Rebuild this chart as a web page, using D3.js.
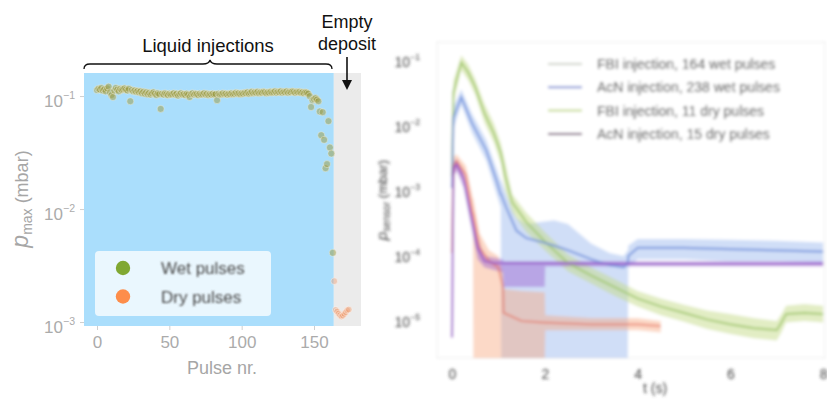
<!DOCTYPE html>
<html><head><meta charset="utf-8">
<script src="https://cdn.jsdelivr.net/npm/d3@7"></script>
<style>body{margin:0;background:#fff}svg{display:block}</style>
</head><body>
<svg id="c" width="827" height="401"></svg>
<script>
// ---------- LEFT PANEL DATA ----------
const wetPulses = [
0.113,0.116,0.114,0.118,0.112,0.115,0.110,0.117,0.121,0.108,
0.102,0.098,0.112,0.118,0.114,0.110,0.116,0.113,0.115,0.117,
0.114,0.112,0.116,0.090,0.113,0.110,0.112,0.109,0.111,0.108,
0.110,0.106,0.109,0.105,0.108,0.104,0.107,0.103,0.106,0.108,
0.105,0.102,0.106,0.104,0.077,0.105,0.103,0.106,0.104,0.102,
0.105,0.103,0.104,0.106,0.103,0.105,0.101,0.104,0.106,0.103,
0.104,0.102,0.105,0.103,0.098,0.104,0.106,0.103,0.105,0.104,
0.102,0.105,0.103,0.104,0.106,0.103,0.105,0.102,0.104,0.103,
0.105,0.103,0.104,0.092,0.105,0.103,0.104,0.106,0.104,0.105,
0.103,0.105,0.104,0.106,0.104,0.105,0.107,0.105,0.106,0.104,
0.106,0.105,0.107,0.106,0.108,0.105,0.107,0.109,0.106,0.108,
0.107,0.109,0.106,0.108,0.107,0.109,0.108,0.106,0.108,0.107,
0.109,0.107,0.108,0.110,0.107,0.109,0.108,0.110,0.107,0.109,
0.108,0.110,0.107,0.109,0.108,0.110,0.109,0.107,0.109,0.108,
0.109,0.107,0.108,0.106,0.108,0.107,
0.105,0.100,0.080,0.092,0.094,0.096,0.093,0.090,0.073,0.045,0.072,0.041,0.023,0.025,0.060,0.035,0.031,0.0041];
const dryPulses = [0.0023,0.00128,0.00124,0.00119,0.00115,0.00112,0.00114,0.00118,0.00122,0.00127,0.00129];
const liquidEnd = 163.7;
const emptyEnd = 182.5;
const xTicksLeft = [0, 50, 100, 150];
const yTicksLeft = [1e-3, 1e-2, 1e-1];
const legendLeft = ["Wet pulses", "Dry pulses"];

// ---------- RIGHT PANEL DATA ----------
const legendRight = ["FBI injection, 164 wet pulses", "AcN injection, 238 wet pulses", "FBI injection, 11 dry pulses", "AcN injection, 15 dry pulses"];
const xTicksRight = [0, 2, 4, 6, 8];
const yTicksRight = [1e-5, 1e-4, 1e-3, 1e-2, 1e-1];

const fbiWetT    = [0, 0.03, 0.2, 0.35, 0.5, 0.7, 0.9, 1.05, 1.15, 1.3, 1.6, 2.0, 2.5, 3.0, 3.5, 4.0, 4.5, 5.0, 5.5, 6.0, 6.5, 7.0, 7.1, 7.2, 7.6, 8.0];
const fbiWetMean = [1.5e-3, 3e-2, 8.5e-2, 6e-2, 3.6e-2, 1.4e-2, 7e-3, 3.5e-3, 1.5e-3, 6e-4, 3e-4, 1.5e-4, 7e-5, 4.5e-5, 3e-5, 2e-5, 1.5e-5, 1.2e-5, 9.5e-6, 8e-6, 7e-6, 6.5e-6, 8.5e-6, 1.15e-5, 1.2e-5, 1.15e-5];
const fbiWetHi   = [2e-3, 4.5e-2, 1.1e-1, 8e-2, 4.8e-2, 2e-2, 1e-2, 5e-3, 2.5e-3, 8e-4, 4.2e-4, 2.1e-4, 9.5e-5, 6e-5, 4e-5, 2.6e-5, 2e-5, 1.6e-5, 1.3e-5, 1.15e-5, 1e-5, 9e-6, 1.15e-5, 1.55e-5, 1.65e-5, 1.55e-5];
const fbiWetLo   = [1e-3, 2e-2, 6.5e-2, 4.5e-2, 2.7e-2, 1e-2, 5e-3, 2.4e-3, 9e-4, 4.2e-4, 2.1e-4, 1.1e-4, 5.2e-5, 3.4e-5, 2.2e-5, 1.5e-5, 1.1e-5, 8.8e-6, 6.8e-6, 5.7e-6, 4.9e-6, 4.5e-6, 6e-6, 8.5e-6, 9e-6, 8.5e-6];

const acnWetT    = [0, 0.03, 0.2, 0.43, 0.74, 0.96, 1.05, 1.06, 1.17, 1.39, 1.6, 1.9, 2.2, 2.5, 3.0, 3.4, 3.7, 3.79, 3.8, 4.0, 5.0, 6.0, 7.0, 8.0];
const acnWetMean = [1e-3, 1.2e-2, 2.5e-2, 1e-2, 3.8e-3, 1.3e-3, 8e-4, 8e-4, 5e-4, 2.2e-4, 1.7e-4, 1.5e-4, 1.3e-4, 1.1e-4, 8e-5, 6.5e-5, 6e-5, 7e-5, 9e-5, 1.2e-4, 1.2e-4, 1.15e-4, 1.1e-4, 1.05e-4];
const acnWetHi   = [1.5e-3, 1.8e-2, 3.3e-2, 1.4e-2, 5.5e-3, 2e-3, 1.3e-3, 1.3e-3, 8e-4, 3.5e-4, 2.8e-4, 3e-4, 3.2e-4, 2.8e-4, 1.4e-4, 1e-4, 9e-5, 1.1e-4, 1.3e-4, 1.65e-4, 1.65e-4, 1.6e-4, 1.55e-4, 1.45e-4];
const acnWetLo   = [7e-4, 8e-3, 1.9e-2, 7e-3, 2.6e-3, 8e-4, 5e-4, 1e-7, 1e-7, 1e-7, 1e-7, 1e-7, 1e-7, 1e-7, 1e-7, 1e-7, 1e-7, 1e-7, 6e-5, 8e-5, 8e-5, 7.5e-5, 7.5e-5, 7e-5];

const fbiDryT    = [0, 0.03, 0.1, 0.3, 0.45, 0.46, 0.6, 0.8, 1.0, 1.1, 1.11, 1.5, 2.0, 2.01, 3.0, 4.0, 4.5];
const fbiDryMean = [1e-4, 2.2e-3, 2.6e-3, 1.6e-3, 4e-4, 4e-4, 1.2e-4, 7.5e-5, 6e-5, 3e-5, 1.2e-5, 9e-6, 8.5e-6, 8.5e-6, 8e-6, 8e-6, 7.5e-6];
const fbiDryHi   = [2e-4, 3e-3, 3.3e-3, 2.2e-3, 7e-4, 7e-4, 2e-4, 1.1e-4, 9e-5, 5e-5, 2.8e-5, 2.6e-5, 2.5e-5, 1.1e-5, 1e-5, 1e-5, 9e-6];
const fbiDryLo   = [5e-5, 1.5e-3, 2e-3, 1.1e-3, 2.5e-4, 1e-7, 1e-7, 1e-7, 1e-7, 1e-7, 1e-7, 1e-7, 1e-7, 6.5e-6, 6.5e-6, 6.5e-6, 6e-6];

const acnDryT    = [0, 0.03, 0.1, 0.25, 0.4, 0.55, 0.7, 0.9, 1.1, 1.11, 2.0, 2.01, 4.0, 6.0, 8.0];
const acnDryMean = [5e-6, 2e-3, 2.3e-3, 1.4e-3, 4e-4, 1.2e-4, 7.5e-5, 7e-5, 7e-5, 7e-5, 7e-5, 7e-5, 6.8e-5, 6.8e-5, 6.8e-5];
const acnDryHi   = [6e-6, 2.5e-3, 2.8e-3, 1.8e-3, 5.5e-4, 1.7e-4, 9e-5, 8.5e-5, 8e-5, 7.5e-5, 7.5e-5, 7.5e-5, 7.5e-5, 7.5e-5, 7.5e-5];
const acnDryLo   = [4e-6, 1.5e-3, 1.8e-3, 1e-3, 2.8e-4, 8e-5, 6e-5, 5.5e-5, 5e-5, 3e-5, 3e-5, 6.2e-5, 6.2e-5, 6.2e-5, 6.2e-5];

// ---------- DRAW ----------
const svg = d3.select('#c');
const font = "'Liberation Sans', Arial, Helvetica, sans-serif";
const defs = svg.append('defs');
defs.append('filter').attr('id','blurR').attr('x','-5%').attr('y','-5%').attr('width','110%').attr('height','110%')
  .append('feGaussianBlur').attr('stdDeviation',1.7);
defs.append('filter').attr('id','blurT').attr('x','-5%').attr('y','-20%').attr('width','110%').attr('height','140%')
  .append('feGaussianBlur').attr('stdDeviation',1.0);

function supLabels(g){
  g.selectAll('.tick text').each(function(d){
    const e = Math.round(Math.log10(d));
    const t = d3.select(this); t.text('');
    t.append('tspan').text('10');
    t.append('tspan').attr('dy','-0.75em').attr('font-size','0.62em').text('\u2212' + Math.abs(e));
  });
}

// LEFT
const xL = d3.scaleLinear().domain([-9, emptyEnd]).range([84, 361]);
const yL = d3.scaleLog().domain([Math.pow(10,-3.035), Math.pow(10,-0.796)]).range([326, 73]);
const gL = svg.append('g');
gL.append('rect').attr('x', xL(-9)).attr('y', 73).attr('width', xL(liquidEnd)-xL(-9)).attr('height', 253).attr('fill','#aadefc');
gL.append('rect').attr('x', xL(liquidEnd)).attr('y', 73).attr('width', xL(emptyEnd)-xL(liquidEnd)).attr('height', 253).attr('fill','#ebebeb');

const axL = gL.append('g').attr('transform','translate(0,326)')
  .call(d3.axisBottom(xL).tickValues(xTicksLeft).tickSize(4).tickPadding(6));
axL.select('.domain').remove();
axL.selectAll('line').attr('stroke','#cfcfcf');
axL.selectAll('text').attr('fill','#ababab').attr('font-size',17).attr('font-family',font);

const ayL = gL.append('g').attr('transform','translate(84,0)')
  .call(d3.axisLeft(yL).tickValues(yTicksLeft).tickSize(4).tickPadding(5));
ayL.select('.domain').remove();
ayL.selectAll('line').attr('stroke','#cfcfcf');
ayL.selectAll('text').attr('fill','#ababab').attr('font-size',17).attr('font-family',font).attr('dy','0.62em');
supLabels(ayL);

gL.append('g').selectAll('circle').data(wetPulses).join('circle')
  .attr('cx',(d,i)=>xL(i)).attr('cy',d=>yL(d)).attr('r',3.5)
  .attr('fill','#9a9a40').attr('fill-opacity',0.5).attr('stroke','#f4f4e8').attr('stroke-opacity',0.55).attr('stroke-width',0.8);
gL.append('g').selectAll('circle').data(dryPulses).join('circle')
  .attr('cx',(d,i)=>xL(wetPulses.length + i)).attr('cy',d=>yL(d)).attr('r',3.3)
  .attr('fill','#ee9462').attr('fill-opacity',0.38).attr('stroke','#fff').attr('stroke-opacity',0.5).attr('stroke-width',0.8);

// legend left
gL.append('rect').attr('x',95).attr('y',251).attr('width',176).attr('height',65).attr('rx',4)
  .attr('fill','#fff').attr('fill-opacity',0.75);
const legColL = ['#80a832','#fd8d4a'];
legendLeft.forEach((s,i)=>{
  gL.append('circle').attr('cx',123).attr('cy',268+i*28.5).attr('r',7.2).attr('fill',legColL[i]);
  gL.append('text').attr('x',161).attr('y',274+i*28.5).attr('font-size',17).attr('font-family',font)
    .attr('fill','#4a4a4a').attr('filter','url(#blurT)').text(s);
});

// axis labels left
gL.append('text').attr('x',222).attr('y',374).attr('text-anchor','middle').attr('font-size',18)
  .attr('font-family',font).attr('fill','#a6a6a6').text('Pulse nr.');
const yl = gL.append('text').attr('transform','translate(28,199) rotate(-90)').attr('text-anchor','middle')
  .attr('font-size',18).attr('font-family',font).attr('fill','#a6a6a6');
yl.append('tspan').attr('font-style','italic').attr('font-size',23).text('p');
yl.append('tspan').attr('font-size',14).attr('dy',4).text('max');
yl.append('tspan').attr('dy',-4).text(' (mbar)');

// annotations
svg.append('text').attr('x',208).attr('y',52).attr('text-anchor','middle').attr('font-size',18.5)
  .attr('font-family',font).attr('fill','#111').text('Liquid injections');
svg.append('path').attr('d','M84,69 Q84,64 90,64 L203,64 Q209,64 210,60 Q211,64 217,64 L326,64 Q332,64 332,69')
  .attr('fill','none').attr('stroke','#111').attr('stroke-width',1.3);
svg.append('text').attr('x',347).attr('y',28).attr('text-anchor','middle').attr('font-size',18)
  .attr('font-family',font).attr('fill','#111').text('Empty');
svg.append('text').attr('x',347).attr('y',50).attr('text-anchor','middle').attr('font-size',18)
  .attr('font-family',font).attr('fill','#111').text('deposit');
svg.append('line').attr('x1',347).attr('x2',347).attr('y1',57).attr('y2',82).attr('stroke','#111').attr('stroke-width',1.6);
svg.append('path').attr('d','M342,80 L352,80 L347,90 Z').attr('fill','#111');

// RIGHT
const xR = d3.scaleLinear().domain([-0.28, 8.05]).range([439, 825.5]);
const yR = d3.scaleLog().domain([Math.pow(10,-5.615), Math.pow(10,-0.754)]).range([358, 42]).clamp(true);
const gR = svg.append('g').attr('filter','url(#blurR)');
gR.append('rect').attr('x',437).attr('y',42).attr('width',388).attr('height',316).attr('fill','#fff')
  .attr('stroke','#f2f2f2').attr('stroke-width',1.5);

const series = [
  {t:acnWetT, m:acnWetMean, lo:acnWetLo, hi:acnWetHi, band:'#8fb0ec', bo:0.42, line:'#7393dc', lo2:0.85},
  {t:fbiWetT, m:fbiWetMean, lo:fbiWetLo, hi:fbiWetHi, band:'#c5dc8a', bo:0.5, line:'#a2c870', lo2:0.85},
  {t:fbiDryT, m:fbiDryMean, lo:fbiDryLo, hi:fbiDryHi, band:'#f8a47a', bo:0.42, line:'#e46e5c', lo2:0.6},
  {t:acnDryT, m:acnDryMean, lo:acnDryLo, hi:acnDryHi, band:'#9b5fcf', bo:0.45, line:'#9656c8', lo2:0.85}
];
series.forEach(s=>{
  const idx = d3.range(s.t.length);
  const area = d3.area().x(i=>xR(s.t[i])).y0(i=>yR(s.lo[i])).y1(i=>yR(s.hi[i]));
  gR.append('path').attr('d',area(idx)).attr('fill',s.band).attr('fill-opacity',s.bo);
});
[1,0,2,3].forEach(k=>{
  const s = series[k];
  const idx = d3.range(s.t.length);
  const line = d3.line().x(i=>xR(s.t[i])).y(i=>yR(s.m[i]));
  gR.append('path').attr('d',line(idx)).attr('fill','none').attr('stroke',s.line).attr('stroke-width',2.2)
    .attr('stroke-opacity', s.lo2);
});

const axR = gR.append('g').attr('transform','translate(0,358)')
  .call(d3.axisBottom(xR).tickValues(xTicksRight).tickSize(0).tickPadding(11));
axR.select('.domain').remove();
axR.selectAll('text').attr('fill','#444').attr('font-size',14).attr('font-family',font);
const ayR = gR.append('g').attr('transform','translate(437,0)')
  .call(d3.axisLeft(yR).tickValues(yTicksRight).tickSize(0).tickPadding(17));
ayR.select('.domain').remove();
ayR.selectAll('text').attr('fill','#444').attr('font-size',14).attr('font-family',font).attr('dy','0.6em');
supLabels(ayR);

gR.append('text').attr('x',655).attr('y',393).attr('text-anchor','middle').attr('font-size',14)
  .attr('font-family',font).attr('fill','#444').text('t (s)');
const ylr = gR.append('text').attr('transform','translate(387,200) rotate(-90)').attr('text-anchor','middle')
  .attr('font-size',13).attr('font-family',font).attr('fill','#444');
ylr.append('tspan').attr('font-style','italic').attr('font-size',15).text('p');
ylr.append('tspan').attr('font-size',10).attr('dy',3).text('sensor');
ylr.append('tspan').attr('dy',-3).text(' (mbar)');

const legColR = ['#cdd3c8','#8090d4','#c4da8e','#6e4a70'];
legendRight.forEach((s,i)=>{
  const y = 64 + i*23.3;
  gR.append('line').attr('x1',548).attr('x2',582).attr('y1',y).attr('y2',y).attr('stroke',legColR[i]).attr('stroke-width',2);
  gR.append('text').attr('x',597).attr('y',y+5).attr('font-size',14).attr('font-family',font).attr('fill','#3a3a3a').text(s);
});
</script>
</body></html>
